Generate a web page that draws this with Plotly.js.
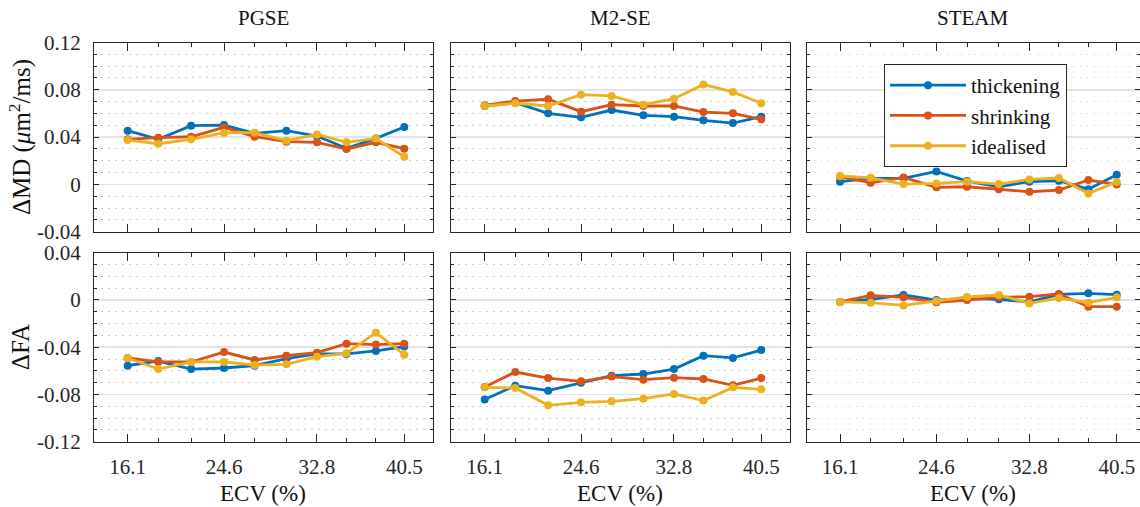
<!DOCTYPE html>
<html>
<head>
<meta charset="utf-8">
<script src="https://cdn.plot.ly/plotly-3.0.1.min.js"></script>
<style>html,body{margin:0;padding:0;background:#fff;}#chart{width:1140px;height:507px;}</style>
</head>
<body>
<div id="chart"></div>
<script>
// ---- data ----
const ecv = [16.1, 18.8, 21.7, 24.6, 27.3, 30.1, 32.8, 35.4, 38.0, 40.5];
const ecvTickLabels = [16.1, 24.6, 32.8, 40.5];
const seriesNames = ['thickening', 'shrinking', 'idealised'];
const sequences = ['PGSE', 'M2-SE', 'STEAM'];

const mdTicks = [-0.04, 0, 0.04, 0.08, 0.12];
const faTicks = [-0.12, -0.08, -0.04, 0, 0.04];

// ΔMD
const pgseMdThick = [0.0454, 0.0381, 0.0497, 0.0502, 0.0432, 0.0454, 0.0409, 0.0305, 0.0389, 0.0485];
const pgseMdShrink = [0.0381, 0.0395, 0.0403, 0.0483, 0.0403, 0.0361, 0.0356, 0.0299, 0.0356, 0.0302];
const pgseMdIdeal = [0.0375, 0.0344, 0.0381, 0.0437, 0.0437, 0.0370, 0.0423, 0.0356, 0.0389, 0.0234];

const m2seMdThick = [0.0663, 0.0691, 0.0601, 0.0567, 0.0629, 0.0584, 0.0573, 0.0542, 0.0519, 0.0573];
const m2seMdShrink = [0.0669, 0.0705, 0.0720, 0.0615, 0.0674, 0.0663, 0.0663, 0.0612, 0.0601, 0.0550];
const m2seMdIdeal = [0.0663, 0.0686, 0.0663, 0.0759, 0.0748, 0.0674, 0.0725, 0.0844, 0.0782, 0.0686];

const steamMdThick = [0.0023, 0.0051, 0.0051, 0.0110, 0.0028, -0.0020, 0.0023, 0.0031, -0.0040, 0.0082];
const steamMdShrink = [0.0065, 0.0014, 0.0059, -0.0025, -0.0020, -0.0042, -0.0062, -0.0048, 0.0037, 0.0000];
const steamMdIdeal = [0.0071, 0.0056, 0.0003, 0.0008, 0.0023, 0.0003, 0.0042, 0.0054, -0.0076, 0.0020];

// ΔFA
const pgseFaThick = [-0.0556, -0.0517, -0.0585, -0.0576, -0.0556, -0.0497, -0.0457, -0.0457, -0.0432, -0.0395];
const pgseFaShrink = [-0.0491, -0.0525, -0.0525, -0.0441, -0.0508, -0.0472, -0.0446, -0.0370, -0.0378, -0.0370];
const pgseFaIdeal = [-0.0491, -0.0585, -0.0525, -0.0525, -0.0551, -0.0545, -0.0480, -0.0452, -0.0277, -0.0463];

const m2seFaThick = [-0.0842, -0.0726, -0.0768, -0.0700, -0.0641, -0.0627, -0.0585, -0.0472, -0.0491, -0.0424];
const m2seFaShrink = [-0.0737, -0.0610, -0.0661, -0.0689, -0.0649, -0.0675, -0.0658, -0.0669, -0.0723, -0.0661];
const m2seFaIdeal = [-0.0740, -0.0745, -0.0892, -0.0867, -0.0858, -0.0836, -0.0796, -0.0852, -0.0740, -0.0757];

const steamFaThick = [-0.0017, 0.0005, 0.0042, -0.0001, 0.0013, 0.0005, -0.0017, 0.0047, 0.0056, 0.0045];
const steamFaShrink = [-0.0017, 0.0039, 0.0022, -0.0020, -0.0001, 0.0022, 0.0028, 0.0050, -0.0057, -0.0057];
const steamFaIdeal = [-0.0017, -0.0023, -0.0046, -0.0009, 0.0025, 0.0042, -0.0029, 0.0016, -0.0023, 0.0022];

// ---- styling ----
const colors = ['#0072BD', '#D95319', '#EDB120'];
const FONT = 'Liberation Serif';
const INK = '#262626';
const W = 1140, H = 507;

const panels = [
  [pgseMdThick, pgseMdShrink, pgseMdIdeal],
  [m2seMdThick, m2seMdShrink, m2seMdIdeal],
  [steamMdThick, steamMdShrink, steamMdIdeal],
  [pgseFaThick, pgseFaShrink, pgseFaIdeal],
  [m2seFaThick, m2seFaShrink, m2seFaIdeal],
  [steamFaThick, steamFaShrink, steamFaIdeal]
];

const traces = [];
panels.forEach((set, p) => {
  set.forEach((ys, s) => {
    traces.push({
      x: ecv, y: ys,
      type: 'scatter', mode: 'lines+markers',
      name: seriesNames[s],
      legendgroup: seriesNames[s],
      showlegend: p === 2,
      line: {color: colors[s], width: 2.8},
      marker: {color: colors[s], size: 8},
      xaxis: 'x' + (p === 0 ? '' : p + 1),
      yaxis: 'y' + (p === 0 ? '' : p + 1),
      hoverinfo: 'x+y'
    });
  });
});

const colPx = [[94, 432.5], [451, 789.5], [806.5, 1140]];
const rowPx = [[42.5, 231.7], [252.7, 441.7]];
const xRanges = [[13.13, 42.99], [13.13, 42.99], [13.146, 42.55]];

const fmt = v => (v === 0 ? '0' : (v < 0 ? '-' : '') + Math.abs(v).toFixed(2));
const minorX = ecv.filter(v => ecvTickLabels.indexOf(v) < 0);

const layout = {
  width: W, height: H,
  margin: {l: 0, r: 0, t: 0, b: 0},
  paper_bgcolor: '#fff', plot_bgcolor: '#fff',
  font: {family: FONT, color: INK, size: 20},
  showlegend: true,
  legend: {
    x: 884 / W, y: 1 - 64 / H, xanchor: 'left', yanchor: 'top',
    bgcolor: '#fff', bordercolor: INK, borderwidth: 1,
    font: {family: FONT, size: 21, color: '#111'},
    itemwidth: 76,
    tracegroupgap: 0
  },
  annotations: [],
  hovermode: 'closest'
};

for (let p = 0; p < 6; p++) {
  const col = p % 3, row = Math.floor(p / 3);
  const xa = 'xaxis' + (p === 0 ? '' : p + 1);
  const ya = 'yaxis' + (p === 0 ? '' : p + 1);
  const yTicks = row === 0 ? mdTicks : faTicks;
  layout[xa] = {
    domain: [colPx[col][0] / W, colPx[col][1] / W],
    anchor: 'y' + (p === 0 ? '' : p + 1),
    range: xRanges[col],
    showgrid: false, zeroline: false,
    showline: true, linecolor: INK, linewidth: 1, mirror: 'ticks',
    tickmode: 'array', tickvals: ecvTickLabels,
    ticktext: ecvTickLabels.map(v => v.toFixed(1)),
    ticks: 'inside', ticklen: 8, tickwidth: 1, tickcolor: INK,
    showticklabels: row === 1,
    ticklabelstandoff: 6,
    tickfont: {family: FONT, size: 21, color: INK},
    minor: {tickmode: 'array', tickvals: minorX, ticks: 'inside', ticklen: 4, tickcolor: INK, showgrid: false},
    fixedrange: true
  };
  layout[ya] = {
    domain: [1 - rowPx[row][1] / H, 1 - rowPx[row][0] / H],
    anchor: 'x' + (p === 0 ? '' : p + 1),
    range: [yTicks[0], yTicks[yTicks.length - 1]],
    zeroline: false,
    showline: true, linecolor: INK, linewidth: 1, mirror: 'ticks',
    tickmode: 'array', tickvals: yTicks, ticktext: yTicks.map(fmt),
    ticks: 'inside', ticklen: 5, tickwidth: 1, tickcolor: INK,
    showticklabels: col === 0,
    ticklabelstandoff: 8,
    tickfont: {family: FONT, size: 21, color: INK},
    showgrid: true, gridcolor: '#e3e3e3', gridwidth: 1.5,
    minor: {dtick: 0.01, ticks: 'inside', ticklen: 3, tickcolor: INK,
            showgrid: true, gridcolor: '#cdcdcd', gridwidth: 1, griddash: '1.5px,5.5px'},
    fixedrange: true
  };
}

sequences.forEach((t, c) => {
  layout.annotations.push({
    text: t, xref: 'paper', yref: 'paper',
    x: (colPx[c][0] + colPx[c][1]) / 2 / W, y: 1 - 18 / H,
    xanchor: 'center', yanchor: 'middle', showarrow: false,
    font: {family: FONT, size: 21, color: '#111'}
  });
  layout.annotations.push({
    text: 'ECV (%)', xref: 'paper', yref: 'paper',
    x: (colPx[c][0] + colPx[c][1]) / 2 / W, y: 1 - 493 / H,
    xanchor: 'center', yanchor: 'middle', showarrow: false,
    font: {family: FONT, size: 23, color: '#111'}
  });
});
layout.annotations.push({
  text: 'ΔMD (<i>μ</i>m<sup>2</sup>/ms)', xref: 'paper', yref: 'paper',
  x: 20 / W, y: 1 - (rowPx[0][0] + rowPx[0][1]) / 2 / H, textangle: -90,
  xanchor: 'center', yanchor: 'middle', showarrow: false,
  font: {family: FONT, size: 25, color: '#111'}
});
layout.annotations.push({
  text: 'ΔFA', xref: 'paper', yref: 'paper',
  x: 20 / W, y: 1 - (rowPx[1][0] + rowPx[1][1]) / 2 / H, textangle: -90,
  xanchor: 'center', yanchor: 'middle', showarrow: false,
  font: {family: FONT, size: 25, color: '#111'}
});

Plotly.newPlot('chart', traces, layout, {displayModeBar: false, staticPlot: true});
</script>
</body>
</html>
